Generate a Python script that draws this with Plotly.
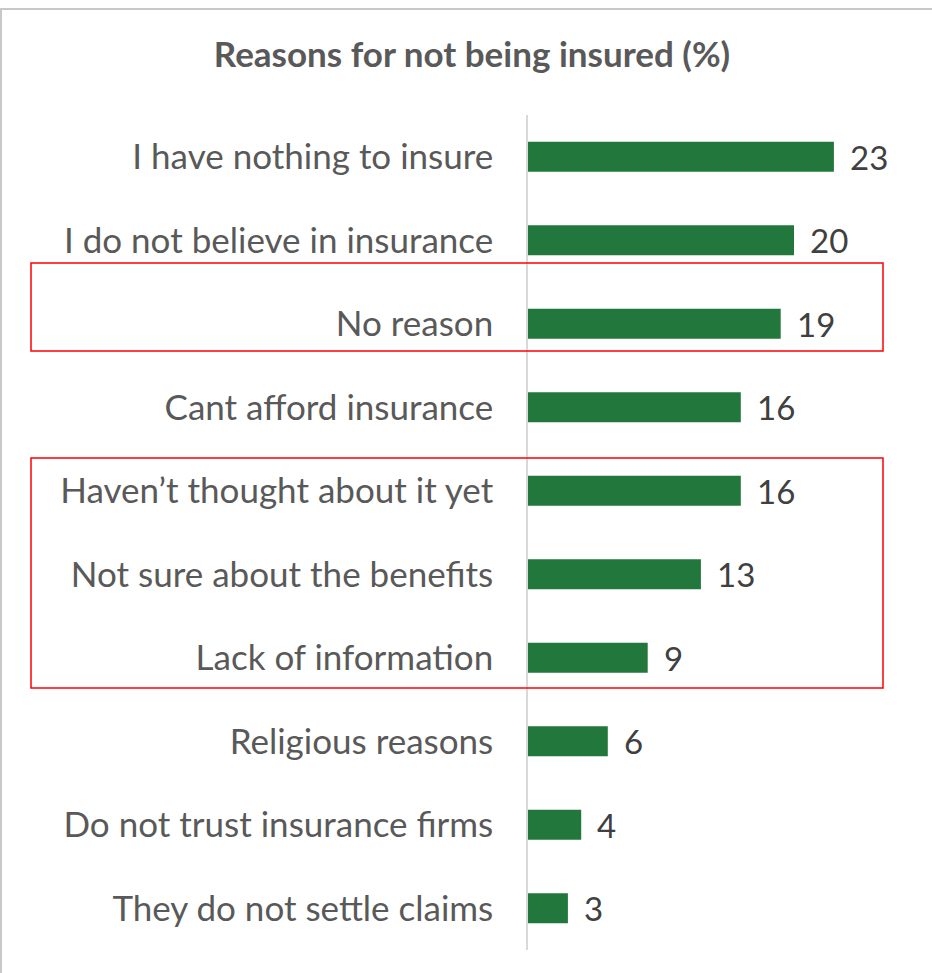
import plotly.graph_objects as go

categories = [
    "I have nothing to insure",
    "I do not believe in insurance",
    "No reason",
    "Cant afford insurance",
    "Haven’t thought about it yet",
    "Not sure about the benefits",
    "Lack of information",
    "Religious reasons",
    "Do not trust insurance firms",
    "They do not settle claims",
]
values = [23, 20, 19, 16, 16, 13, 9, 6, 4, 3]
title_text = "Reasons for not being insured (%)"

FONT = "Lato"
W, H = 932, 973
ML, MR, MT, MB = 528, 5, 115, 23

fig = go.Figure()
fig.add_trace(go.Bar(
    x=values, y=categories, orientation="h",
    marker=dict(color="#22773C", line=dict(width=0)),
    width=0.36, hoverinfo="skip",
))

for c, v in zip(categories, values):
    fig.add_annotation(x=v, y=c, xref="x", yref="y", text=str(v),
                       showarrow=False, xanchor="left", xshift=14,
                       font=dict(family=FONT, size=33, color="#404040"))

pw = W - ML - MR
ph = H - MT - MB
def px(x):
    return (x - ML) / pw
def py(y):
    return (H - MB - y) / ph

# chart border (left + top visible)
fig.add_shape(type="rect", xref="paper", yref="paper",
              x0=px(1), x1=px(W + 10), y0=py(H + 10), y1=py(9),
              line=dict(color="#c8c8c8", width=2), layer="below")
# red highlight boxes
for (y0, y1) in [(263, 351), (458, 688)]:
    fig.add_shape(type="rect", xref="paper", yref="paper",
                  x0=px(31), x1=px(883), y0=py(y1), y1=py(y0),
                  line=dict(color="#FF0000", width=1.5))

fig.update_layout(
    width=W, height=H,
    margin=dict(l=ML, r=MR, t=MT, b=MB, pad=0),
    paper_bgcolor="white", plot_bgcolor="white",
    showlegend=False,
    title=dict(text="<b>" + title_text + "</b>", x=472 / W,
               xanchor="center", y=1 - 55 / H, yanchor="middle",
               font=dict(family=FONT, size=35, color="#595959")),
    xaxis=dict(range=[0, 30], visible=False, showgrid=False, zeroline=False),
    yaxis=dict(autorange="reversed", type="category",
               showline=True, linecolor="#d9d9d9", linewidth=1.5,
               showgrid=False, ticks="", ticklabelstandoff=26,
               tickfont=dict(family=FONT, size=35, color="#595959")),
    bargap=0.64,
)

fig.write_html("out.html", config={"displayModeBar": False},
               post_script="document.body.style.margin='0';document.body.style.overflow='hidden';")
